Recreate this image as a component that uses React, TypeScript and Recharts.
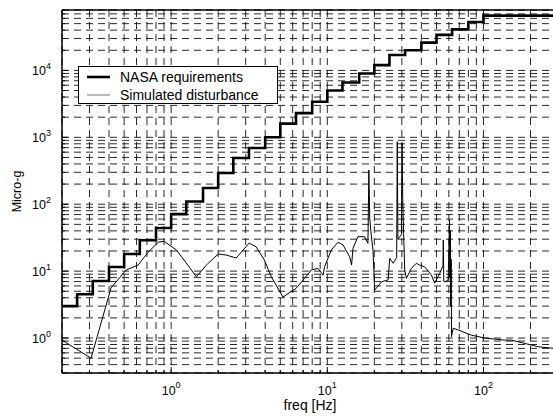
import { LineChart, Line, XAxis, YAxis, CartesianGrid, Legend, ReferenceLine } from "recharts";

const FONT = '"Liberation Sans", Arial, Helvetica, sans-serif';

// tick positions (log grid, every minor)
const xTicks = [
  0.2, 0.3, 0.4, 0.5, 0.6, 0.7, 0.8, 0.9,
  1, 2, 3, 4, 5, 6, 7, 8, 9,
  10, 20, 30, 40, 50, 60, 70, 80, 90,
  100, 200, 300,
];
const yTicks = [
  0.3, 0.4, 0.5, 0.6, 0.7, 0.8, 0.9,
  1, 2, 3, 4, 5, 6, 7, 8, 9,
  10, 20, 30, 40, 50, 60, 70, 80, 90,
  100, 200, 300, 400, 500, 600, 700, 800, 900,
  1000, 2000, 3000, 4000, 5000, 6000, 7000, 8000, 9000,
  10000, 20000, 30000, 40000, 50000, 60000, 70000, 80000,
];

// NASA requirement, 1/3 octave bands (band start freq -> level)
const nasaFreq = [
  0.2, 0.25, 0.315, 0.4, 0.5, 0.63, 0.8, 1, 1.25, 1.6, 2, 2.5, 3.15, 4, 5,
  6.3, 8, 10, 12.5, 16, 20, 25, 31.5, 40, 50, 63, 80, 100, 300,
];
const nasaLevel = [
  3.0, 4.5, 7.1, 11.5, 18, 29, 44, 71, 110, 175, 293, 490, 692, 1000, 1600,
  2300, 3400, 5000, 6600, 9000, 12000, 17000, 20000, 26000, 34000, 41000, 53000, 66000, 66000,
];

// simulated disturbance
const distFreq = [
  0.2, 0.307, 0.412, 0.515, 0.614, 0.71, 0.826, 0.9, 1.08, 1.25, 1.45, 1.68, 2.0, 2.25, 2.61,
  3.16, 3.5, 3.95, 4.38, 5.2, 6.3, 7.15, 7.9, 8.7, 9.4, 9.6, 10.6, 11.7, 12.6, 13.9,
  14.3, 14.6, 15.7, 17.3, 18.2, 18.45, 18.7, 19.1, 19.6, 20.1, 22.2, 24.5, 25.1, 26.4, 27.8,
  28.05, 28.3, 29.8, 30.1, 30.4, 30.8, 31.3, 32.1, 34.5, 37.2, 39, 42, 46.4, 48.7, 52.5,
  55.0, 55.3, 55.7, 56.5, 59.4, 60.6, 60.9, 61.3, 61.7, 62.1, 62.4, 64, 68.8, 83.8, 102,
  137, 151, 184, 224, 300,
];
const distLevel = [
  0.93, 0.5, 5.6, 10.4, 12.3, 19, 27, 28, 20.7, 13.2, 8.2, 12.3, 18, 17.4, 15.7,
  26.3, 23, 14.7, 8.2, 4.1, 5.5, 7.8, 10.4, 11, 8.7, 11.6, 20.7, 27, 24.6, 16.4,
  12.3, 21.9, 32.7, 32.7, 26, 324, 60, 35, 20.7, 5.2, 6.9, 7.4, 15.5, 13.1, 16,
  860, 30, 35, 820, 120, 36.7, 10.4, 7.8, 11, 13.1, 12.3, 11.6, 8.7, 6.6, 9.3,
  12, 29, 7, 6.9, 7.4, 58, 8, 40, 3, 15, 1.05, 1.4, 1.32, 1.1, 1.0,
  0.93, 0.93, 0.83, 0.74, 0.69,
];

const nasaData = nasaFreq.map((f, i) => ({ f, v: nasaLevel[i] }));
const distData = distFreq.map((f, i) => ({ f, v: distLevel[i] }));

const isDecade = (v: number) => Math.abs(Math.log10(v) - Math.round(Math.log10(v))) < 1e-9;

const XTick = ({ x, y, payload }: any) => {
  const v = payload.value;
  const major = isDecade(v);
  return (
    <g>
      <line x1={x} x2={x} y1={y} y2={y - (major ? 6 : 3)} stroke="#000" strokeWidth={1} />
      {major && (
        <text x={x} y={y + 22} textAnchor="middle" fontFamily={FONT} fontSize={12.5} fill="#000">
          <tspan>10</tspan>
          <tspan dy={-7} fontSize={9}>{Math.round(Math.log10(v))}</tspan>
        </text>
      )}
    </g>
  );
};

const YTick = ({ x, y, payload }: any) => {
  const v = payload.value;
  const major = isDecade(v);
  return (
    <g>
      <line x1={x} x2={x + (major ? 6 : 3)} y1={y} y2={y} stroke="#000" strokeWidth={1} />
      {major && (
        <text x={x - 11} y={y + 5} textAnchor="end" fontFamily={FONT} fontSize={12.5} fill="#000">
          <tspan>10</tspan>
          <tspan dy={-6} fontSize={9}>{Math.round(Math.log10(v))}</tspan>
        </text>
      )}
    </g>
  );
};

const LegendBox = ({ payload }: any) => (
  <svg width={200} height={38} style={{ display: "block" }}>
    <rect x={0.5} y={0.5} width={199} height={37} fill="#fff" stroke="#000" />
    {(payload || []).map((p: any, i: number) => (
      <g key={p.value}>
        <line
          x1={9}
          x2={32}
          y1={11 + i * 18}
          y2={11 + i * 18}
          stroke={i === 0 ? "#000" : "#777"}
          strokeWidth={i === 0 ? 2.6 : 1}
        />
        <text x={42} y={16 + i * 18} fontFamily={FONT} fontSize={14} fill="#000">
          {p.value}
        </text>
      </g>
    ))}
  </svg>
);

export default function App() {
  return (
    <div
      style={{
        position: "absolute",
        left: 0,
        top: 0,
        width: 553,
        height: 416,
        overflow: "hidden",
        background: "#fff",
        fontFamily: FONT,
      }}
    >
      <LineChart width={570} height={416} margin={{ top: 10, right: 12, bottom: 3, left: 12 }}>
        <CartesianGrid stroke="#111" strokeDasharray="7 5" strokeWidth={0.9} />
        <XAxis
          type="number"
          dataKey="f"
          scale="log"
          domain={[0.2, 300]}
          ticks={xTicks}
          interval={0}
          allowDataOverflow
          height={40}
          tickSize={0}
          tickMargin={0}
          tickLine={false}
          tick={<XTick />}
          axisLine={{ stroke: "#000", strokeWidth: 1.5 }}
          label={{ value: "freq [Hz]", position: "insideBottom", offset: 3, fill: "#000", fontSize: 14 }}
        />
        <YAxis
          type="number"
          scale="log"
          domain={[0.3, 80000]}
          ticks={yTicks}
          interval={0}
          allowDataOverflow
          width={50}
          tickSize={0}
          tickMargin={0}
          tickLine={false}
          tick={<YTick />}
          axisLine={{ stroke: "#000", strokeWidth: 1.5 }}
          label={{
            value: "Micro-g",
            angle: -90,
            position: "insideLeft",
            offset: 5,
            fill: "#000",
            fontSize: 12.5,
            style: { textAnchor: "middle" },
          }}
        />
        <ReferenceLine y={80000} stroke="#000" strokeWidth={1.5} />
        <Line
          data={nasaData}
          dataKey="v"
          name="NASA requirements"
          type="stepAfter"
          stroke="#000"
          strokeWidth={2.6}
          dot={false}
          isAnimationActive={false}
        />
        <Line
          data={distData}
          dataKey="v"
          name="Simulated disturbance"
          type="linear"
          stroke="#000"
          strokeWidth={1}
          dot={false}
          isAnimationActive={false}
        />
        <Legend
          layout="vertical"
          align="center"
          verticalAlign="middle"
          content={<LegendBox />}
          wrapperStyle={{ left: 78, top: 66, width: 200, height: 38 }}
        />
      </LineChart>
    </div>
  );
}
